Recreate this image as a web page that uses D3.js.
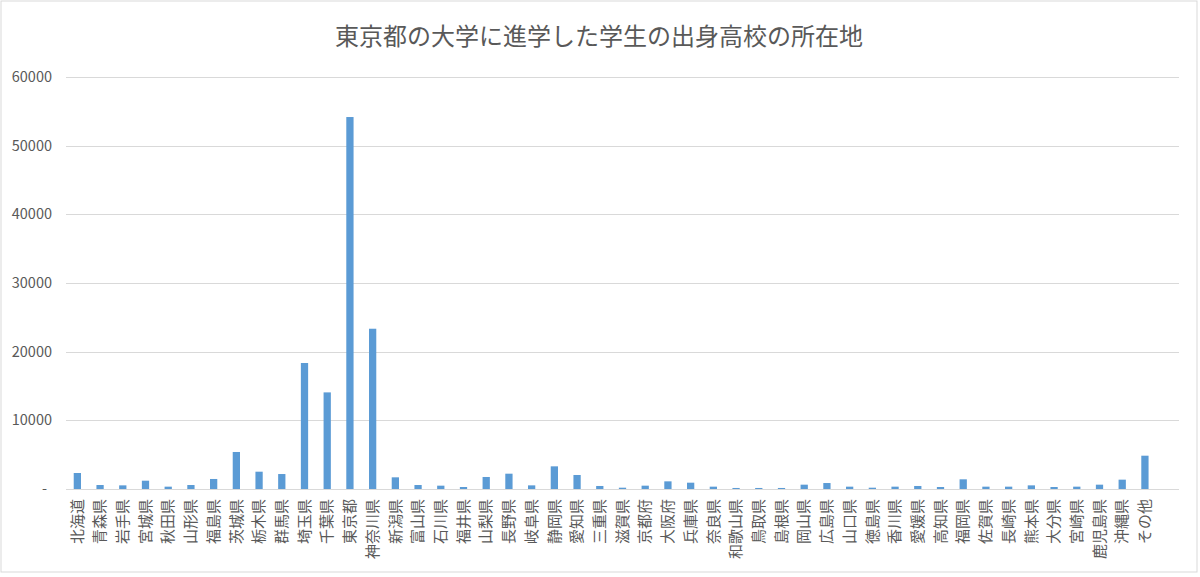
<!DOCTYPE html>
<html>
<head>
<meta charset="utf-8">
<script src="https://cdn.jsdelivr.net/npm/d3@7"></script>
<style>
  body { margin: 0; background: #fff; }
  svg text { font-family: "Noto Sans CJK JP", "Noto Sans", sans-serif; fill: #595959; }
</style>
</head>
<body>
<div id="chart"></div>
<script>
// chart data
const title = '東京都の大学に進学した学生の出身高校の所在地';
const prefectures = [
  '北海道', '青森県', '岩手県', '宮城県', '秋田県', '山形県', '福島県', '茨城県',
  '栃木県', '群馬県', '埼玉県', '千葉県', '東京都', '神奈川県', '新潟県', '富山県',
  '石川県', '福井県', '山梨県', '長野県', '岐阜県', '静岡県', '愛知県', '三重県',
  '滋賀県', '京都府', '大阪府', '兵庫県', '奈良県', '和歌山県', '鳥取県', '島根県',
  '岡山県', '広島県', '山口県', '徳島県', '香川県', '愛媛県', '高知県', '福岡県',
  '佐賀県', '長崎県', '熊本県', '大分県', '宮崎県', '鹿児島県', '沖縄県', 'その他'
];
const students = [
  2330, 580, 530, 1210, 340, 580, 1460, 5390,
  2520, 2180, 18350, 14070, 54170, 23340, 1700, 580,
  485, 290, 1750, 2230, 530, 3300, 2040, 440,
  190, 485, 1115, 920, 340, 150, 150, 150,
  630, 870, 340, 190, 340, 440, 290, 1410,
  340, 340, 530, 290, 340, 630, 1360, 4850
];
const yTicks = [0, 10000, 20000, 30000, 40000, 50000, 60000];
const yTickLabels = ['-', '10000', '20000', '30000', '40000', '50000', '60000'];

const W = 1200, H = 577;
const plot = {left: 66, right: 1179, top: 77, bottom: 489};
const step = (plot.right - plot.left) / (prefectures.length + 1);

const svg = d3.select('#chart')
  .append('svg')
  .attr('width', W)
  .attr('height', H);

// chart area border
svg.append('rect')
  .attr('x', 1).attr('y', 1)
  .attr('width', 1196).attr('height', 571)
  .attr('fill', '#fff')
  .attr('stroke', '#d9d9d9')
  .attr('stroke-width', 1);

svg.append('text')
  .attr('x', 599)
  .attr('y', 45)
  .attr('text-anchor', 'middle')
  .style('font-size', '24px')
  .text(title);

const x = d3.scaleBand()
  .domain(prefectures)
  .range([plot.left, plot.left + step * prefectures.length])
  .paddingInner(0.68)
  .paddingOuter(0.34);

const y = d3.scaleLinear()
  .domain([0, 60000])
  .range([plot.bottom, plot.top]);

// gridlines
svg.append('g')
  .selectAll('line')
  .data(yTicks)
  .enter()
  .append('line')
  .attr('x1', plot.left)
  .attr('x2', plot.right)
  .attr('y1', d => Math.round(y(d)) + 0.5)
  .attr('y2', d => Math.round(y(d)) + 0.5)
  .attr('stroke', '#d9d9d9')
  .attr('stroke-width', 1);

// y tick labels
svg.append('g')
  .selectAll('text')
  .data(yTicks)
  .enter()
  .append('text')
  .attr('x', (d, i) => i === 0 ? 47 : 52)
  .attr('y', d => y(d))
  .attr('dy', '0.35em')
  .attr('text-anchor', 'end')
  .style('font-size', '14.5px')
  .text((d, i) => yTickLabels[i]);

// bars
svg.append('g')
  .selectAll('rect')
  .data(students)
  .enter()
  .append('rect')
  .attr('x', (d, i) => x(prefectures[i]))
  .attr('y', d => y(d))
  .attr('width', x.bandwidth())
  .attr('height', d => y(0) - y(d))
  .attr('fill', '#5b9bd5');

// category labels, rotated
svg.append('g')
  .selectAll('text')
  .data(prefectures)
  .enter()
  .append('text')
  .attr('transform', d => `translate(${x(d) + x.bandwidth() / 2},499) rotate(-90)`)
  .attr('dy', '0.35em')
  .attr('text-anchor', 'end')
  .style('font-size', '15px')
  .text(d => d);
</script>
</body>
</html>
